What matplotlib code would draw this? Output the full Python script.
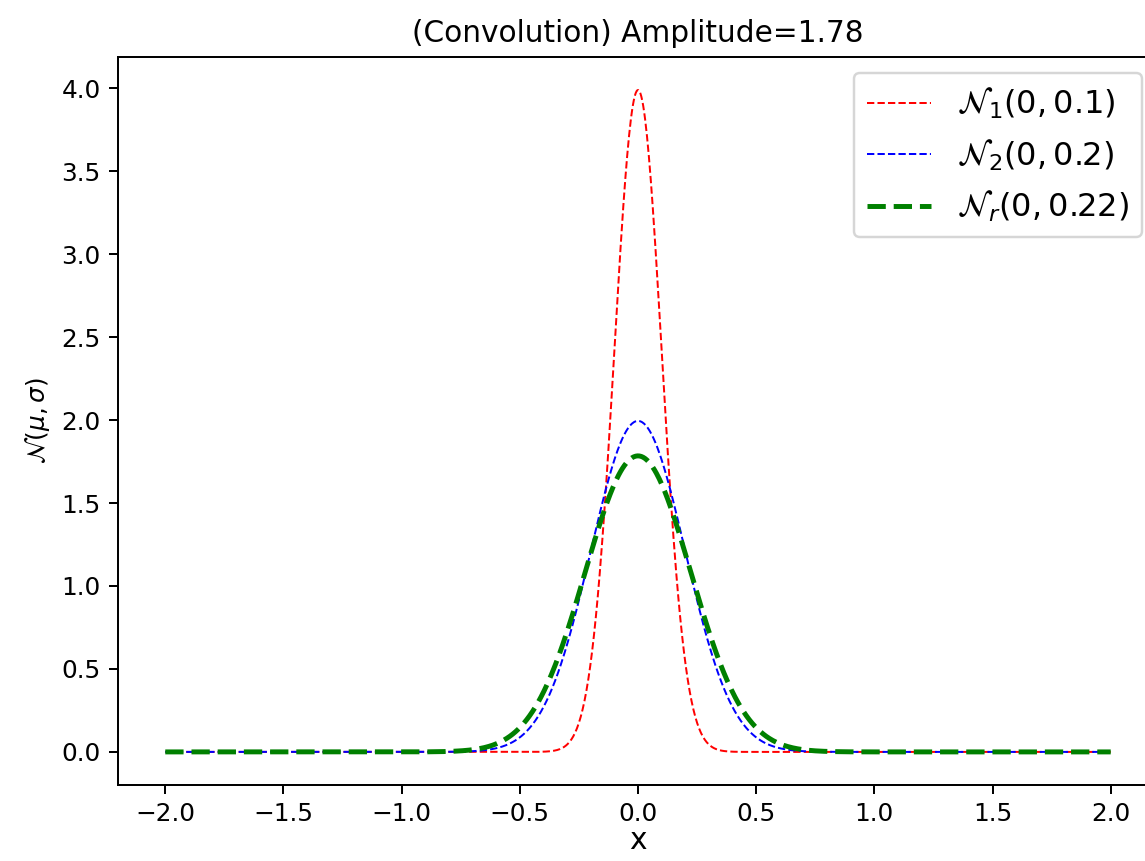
import numpy as np
import matplotlib
matplotlib.use("Agg")
import matplotlib.pyplot as plt

# gaussian parameters
mus = [0.0, 0.0, 0.0]
sigmas = [0.1, 0.2, np.sqrt(0.1**2 + 0.2**2)]
labels = [r'$\mathcal{N}_1(0,0.1)$', r'$\mathcal{N}_2(0,0.2)$', r'$\mathcal{N}_r(0,0.22)$']
colors = ['r', 'b', 'g']
widths = [0.8, 0.8, 2.0]
x_min, x_max = -2.0, 2.0
amplitude = 1.78


def gauss(x, mu, sigma):
    return np.exp(-0.5 * ((x - mu) / sigma) ** 2) / (sigma * np.sqrt(2 * np.pi))


dpi = 178
fig = plt.figure(figsize=(1145 / dpi, 861 / dpi), dpi=dpi)
ax = fig.add_axes([118 / 1145, 76 / 861, 1040 / 1145, 728 / 861])

x = np.linspace(x_min, x_max, 1000)
for mu, s, lab, c, w in zip(mus, sigmas, labels, colors, widths):
    ax.plot(x, gauss(x, mu, s), '--', c=c, lw=w, label=lab)

ax.set_title('(Convolution) Amplitude=%.2f' % amplitude, fontsize=12)
ax.set_xlabel('x', fontsize=12, labelpad=0)
ax.set_ylabel(r'$\mathcal{N}(\mu,\sigma)$', fontsize=10)
ax.tick_params(labelsize=10)
ax.legend(loc='upper right', fontsize=13)
fig.savefig('out.png', dpi=dpi)
